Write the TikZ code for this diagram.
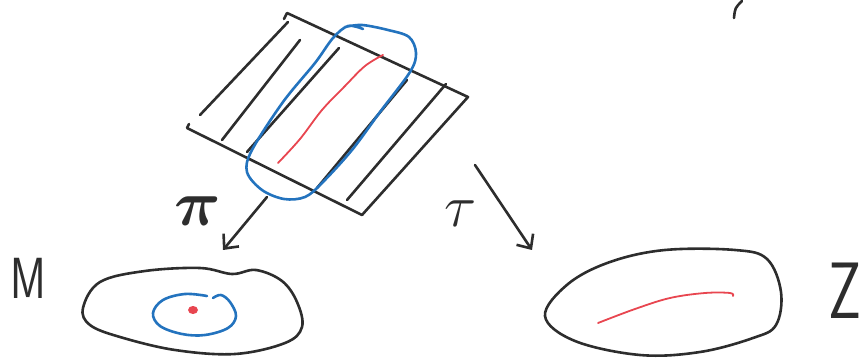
\documentclass[tikz,border=0pt]{standalone}
\usepackage{bm}
\usetikzlibrary{arrows.meta}
\definecolor{pen}{RGB}{45,45,45}
\definecolor{bluepen}{RGB}{35,115,190}
\definecolor{redpen}{RGB}{232,70,80}
\tikzset{
  ink/.style={draw=pen,line width=2.6pt,line cap=round,line join=round},
  blueink/.style={draw=bluepen,line width=2.6pt,line cap=round,line join=round},
  redink/.style={draw=redpen,line width=1.8pt,line cap=round,line join=round},
  hand/.style={text=pen,inner sep=0pt}
}
\begin{document}
\begin{tikzpicture}[x=1pt,y=-1pt,>={Straight Barb[length=11pt,width=20pt]}]
  \useasboundingbox (0,0) rectangle (865,358);
  % the striped sheet
  \coordinate (tl) at (287,13);
  \coordinate (tr) at (468,97);
  \coordinate (br) at (362,215);
  \coordinate (bl) at (187,128);
  \draw[ink] (284,19) -- (tl) -- (tr) -- (br) -- (bl) -- (189,124);
  \foreach \a/\b in {{(200,115)}/{(288,22)},{(222,140)}/{(300,40)},{(247,152)}/{(339,48)},
                     {(317,188)}/{(407,80)},{(347,200)}/{(446,84)}}
    \draw[ink] \a -- \b;
  \draw[blueink] plot[smooth,tension=0.55] coordinates {(345,27) (362,25) (388,30) (409,37) (416,53)
    (410,72) (380,112) (352,150) (322,183) (305,197) (284,199) (262,190) (247,172) (252,150)
    (283,102) (315,63) (333,38) (348,26) (363,29)};
  \draw[redink] plot[smooth,tension=0.6] coordinates {(278,163) (300,139) (322,110) (345,86) (365,66) (383,55)};
  % projections
  \coordinate (piTail) at (267,197);
  \coordinate (piHead) at (223,250);
  \coordinate (tauTail) at (475,165);
  \coordinate (tauHead) at (532,250);
  \draw[ink,->] (piTail) -- (piHead);
  \draw[ink,->] (tauTail) -- (tauHead);
  \node[hand,font=\Huge,scale=2.6] (piLabel) at (198,211) {$\bm{\pi}$};
  \node[hand,font=\Huge,scale=2.4] (tauLabel) at (461,214) {$\tau$};
  % base M
  \draw[ink] plot[smooth cycle,tension=0.6] coordinates {(83,308) (100,282) (145,271) (200,268)
    (232,274) (256,270) (282,281) (297,302) (302,327) (285,343) (235,354) (175,350) (120,337) (90,325)};
  \draw[blueink] plot[smooth,tension=0.6] coordinates {(207,296) (185,294) (163,300) (153,313) (160,326)
    (182,334) (205,335) (228,328) (236,316) (230,302) (221,295) (213,298)};
  \fill[redpen] (193,310) ellipse (5pt and 4pt);
  \node[hand,font=\sffamily\fontsize{58}{58}\selectfont,xscale=0.75] (MLabel) at (28,278) {M};
  % base Z
  \draw[ink] plot[smooth cycle,tension=0.6] coordinates {(545,316) (568,284) (610,262) (665,250)
    (735,250) (767,259) (781,292) (776,325) (753,338) (700,352) (640,355) (575,341)};
  \draw[redink] plot[smooth,tension=0.6] coordinates {(598,323) (635,309) (670,298) (705,293) (730,293) (733,296)};
  \node[hand,font=\sffamily\fontsize{80}{80}\selectfont,xscale=0.72] (ZLabel) at (845,291) {Z};
  % stray stroke at the top
  \draw[ink] (734,18) .. controls (735,8) .. (742,1);
\end{tikzpicture}
\end{document}
